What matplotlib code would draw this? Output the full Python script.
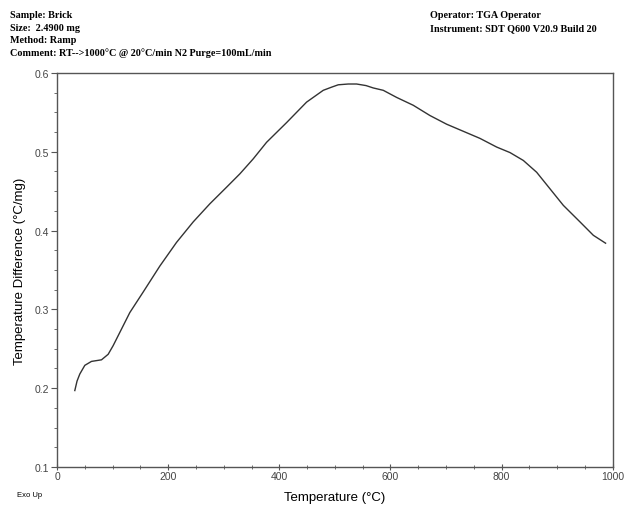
import numpy as np
import matplotlib.pyplot as plt
from matplotlib.ticker import MultipleLocator

# DSC/TGA curve
temperature = [32, 36, 41, 50, 62, 80, 92, 101, 116, 131, 155, 185, 215, 245, 275,
               305, 329, 353, 377, 413, 449, 479, 494, 506, 524, 539, 556, 569, 587, 611,
               641, 671, 701, 731, 761, 791, 815, 839, 863, 887, 911, 941, 965, 987]
temp_diff = [0.197, 0.209, 0.218, 0.229, 0.234, 0.236, 0.243, 0.254, 0.275, 0.296, 0.322,
             0.355, 0.385, 0.411, 0.434, 0.455, 0.472, 0.491, 0.512, 0.537, 0.563,
             0.578, 0.582, 0.585, 0.586, 0.586, 0.584, 0.581, 0.578, 0.569, 0.559, 0.546,
             0.535, 0.526, 0.517, 0.506, 0.499, 0.489, 0.474, 0.453, 0.432, 0.411, 0.394, 0.384]

header_left = ["Sample: Brick", "Size:  2.4900 mg", "Method: Ramp",
               "Comment: RT-->1000\u00b0C @ 20\u00b0C/min N2 Purge=100mL/min"]
header_right = ["Operator: TGA Operator", "Instrument: SDT Q600 V20.9 Build 20"]

fig = plt.figure(figsize=(6.28, 5.06), dpi=100)
ax = fig.add_axes([0.0908, 0.0751, 0.885, 0.7787])

ax.plot(temperature, temp_diff, color='#333333', lw=1.0)

ax.set_xlim(0, 1000)
ax.set_ylim(0.1, 0.6)
ax.xaxis.set_major_locator(MultipleLocator(200))
ax.xaxis.set_minor_locator(MultipleLocator(50))
ax.yaxis.set_major_locator(MultipleLocator(0.1))
ax.yaxis.set_minor_locator(MultipleLocator(0.025))
ax.yaxis.set_major_formatter(plt.FuncFormatter(lambda v, p: f"{v:.1f}"))

for s in ax.spines.values():
    s.set_color('#555555')
    s.set_linewidth(1.0)

ax.tick_params(axis='y', which='major', direction='out', length=4, color='#555555',
               labelsize=7.5, labelcolor='#444444', pad=2)
ax.tick_params(axis='y', which='minor', direction='out', length=2.5, color='#555555')
ax.tick_params(axis='x', which='major', direction='inout', length=4, color='#555555',
               labelsize=7.5, labelcolor='#444444', pad=1)
ax.tick_params(axis='x', which='minor', direction='inout', length=3, color='#555555')

for lab in ax.get_xticklabels() + ax.get_yticklabels():
    lab.set_family('Liberation Sans')

ax.set_xlabel("Temperature (\u00b0C)", family='Liberation Sans', fontsize=9.5, labelpad=7)
ax.set_ylabel("Temperature Difference (\u00b0C/mg)", family='Liberation Sans', fontsize=9.5, labelpad=6)

for i, t in enumerate(header_left):
    fig.text(10 / 628, 1 - (16 + i * 12.3) / 506, t, family='Liberation Serif',
             fontsize=7.3, fontweight='bold', va='center', ha='left')
for i, t in enumerate(header_right):
    fig.text(430 / 628, 1 - (16 + i * 12.3) / 506, t, family='Liberation Serif',
             fontsize=7.3, fontweight='bold', va='center', ha='left')

fig.text(17 / 628, 1 - 496 / 506, "Exo Up", family='Liberation Sans', fontsize=5.5,
         va='center', ha='left')

fig.savefig('out.png', dpi=100)
